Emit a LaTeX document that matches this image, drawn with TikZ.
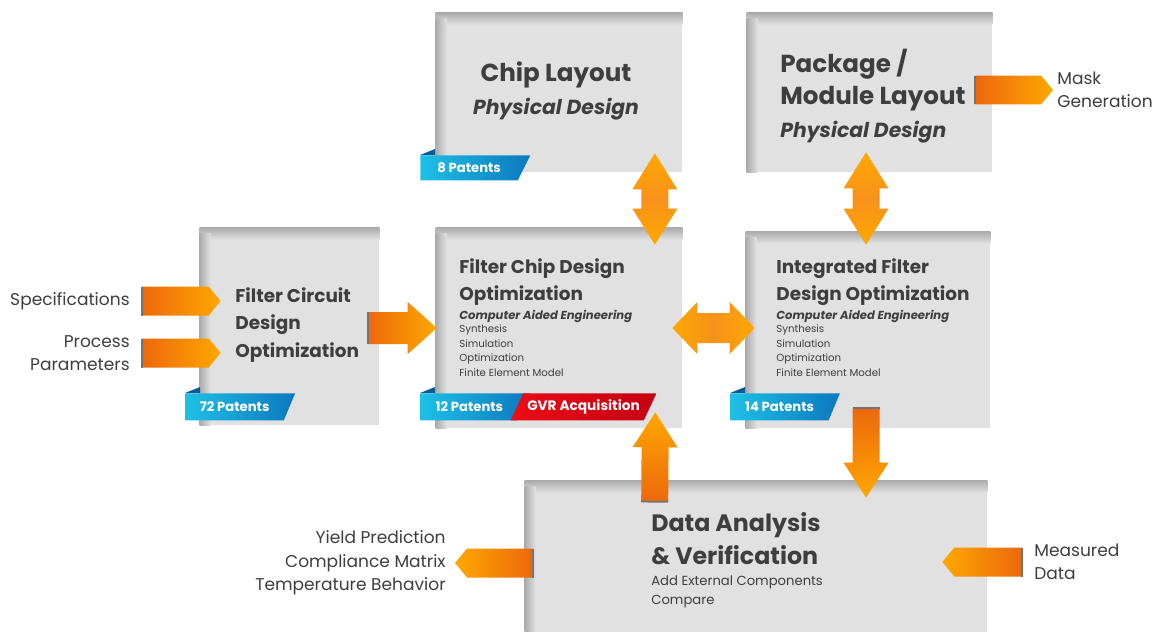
\documentclass[tikz,border=0pt]{standalone}
\usepackage{fontspec}
\setmainfont{Poppins}
\usetikzlibrary{shapes.geometric, calc, positioning}

\definecolor{panelG}{RGB}{225,225,225}
\definecolor{shadeG}{RGB}{172,172,172}
\definecolor{txtG}{RGB}{62,62,62}
\definecolor{orDark}{RGB}{236,104,12}
\definecolor{orMid}{RGB}{247,146,28}
\definecolor{orLight}{RGB}{255,168,0}
\definecolor{patL}{RGB}{30,192,230}
\definecolor{patR}{RGB}{12,120,190}
\definecolor{patFold}{RGB}{10,92,150}
\definecolor{gvrL}{RGB}{236,12,22}
\definecolor{gvrR}{RGB}{196,0,18}

\newcommand\physfont{\bfseries\itshape\fontsize{11.6}{18.5}\selectfont}

\tikzset{
  body half/.store in=\abody, head half/.store in=\ahead, head len/.store in=\alen,
  body half=0.3cm, head half=0.5cm, head len=0.5cm
}

% block arrow from #3 (base) to #4 (tip); #1 size, #2 colours
\newcommand\blockarrow[4]{%
  \path[#1,#2] let \p1=($(#4)-(#3)$), \n1={atan2(\y1,\x1)}, \n2={veclen(\x1,\y1)} in
    [shift={(#3)}, rotate=\n1]
    (0pt,-\abody) -- ({\n2-\alen},-\abody) -- ({\n2-\alen},-\ahead) -- (\n2,0pt)
    -- ({\n2-\alen},\ahead) -- ({\n2-\alen},\abody) -- (0pt,\abody) -- cycle;
  \draw[stub,#1] ($(#3)!\abody!90:(#4)$) -- ($(#3)!\abody!-90:(#4)$);}
% double block arrow between #3 and #4
\newcommand\dblarrow[4]{%
  \path[#1,#2] let \p1=($(#4)-(#3)$), \n1={atan2(\y1,\x1)}, \n2={veclen(\x1,\y1)} in
    [shift={(#3)}, rotate=\n1]
    (0pt,0pt) -- (\alen,-\ahead) -- (\alen,-\abody) -- ({\n2-\alen},-\abody)
    -- ({\n2-\alen},-\ahead) -- (\n2,0pt) -- ({\n2-\alen},\ahead) -- ({\n2-\alen},\abody)
    -- (\alen,\abody) -- (\alen,\ahead) -- cycle;}
% inner shadow on top and left edge of a panel
\newcommand\panelshadow[1]{%
  \shade[top color=shadeG, bottom color=panelG] (#1.north west) rectangle ($(#1.north east)+(0,12)$);
  \shade[left color=shadeG, right color=panelG] ($(#1.north west)+(0,6)$) rectangle ($(#1.south west)+(11,0)$);}

\begin{document}
\begin{tikzpicture}[x=0.02cm, y=-0.02cm,
    panel/.style={fill=panelG, inner sep=0pt},
    head/.style={font=\bfseries\fontsize{10.5}{15.5}\selectfont, text=txtG, align=left, anchor=west, inner sep=0pt},
    bighead/.style={font=\bfseries\fontsize{14}{18.5}\selectfont, text=txtG, align=left, inner sep=0pt},
    cae/.style={font=\bfseries\itshape\fontsize{6.6}{8}\selectfont, text=txtG, anchor=west, inner sep=0pt},
    steps/.style={font=\fontsize{5.8}{8.5}\selectfont, text=txtG, align=left, anchor=north west, inner sep=0pt},
    lbl/.style={font=\fontsize{9.7}{13.3}\selectfont, text=txtG, inner sep=0pt},
    patent/.style={trapezium, trapezium left angle=90, trapezium right angle=129,
      trapezium stretches=true, minimum width=2.2cm, minimum height=0.54cm,
      left color=patL, right color=patR, text=white,
      font=\bfseries\fontsize{7.5}{9}\selectfont, inner sep=0pt, anchor=top left corner},
    gvr/.style={trapezium, trapezium left angle=51, trapezium right angle=129,
      trapezium stretches=true, minimum width=2.94cm, minimum height=0.54cm,
      left color=gvrL, right color=gvrR, text=white,
      font=\bfseries\fontsize{7.8}{9}\selectfont, inner sep=0pt, anchor=top right corner},
    stub/.style={draw=black!55, line width=1pt},
    tabtip/.style={body half=0.29cm, head half=0.29cm, head len=0.24cm},
    widetip/.style={body half=0.32cm, head half=0.52cm, head len=0.58cm},
    vtip/.style={body half=0.27cm, head half=0.45cm, head len=0.7cm},
    dbltip/.style={body half=0.27cm, head half=0.45cm, head len=0.72cm},
    hdbltip/.style={body half=0.3cm, head half=0.52cm, head len=0.5cm},
    toright/.style={left color=orDark, right color=orLight},
    toleft/.style={left color=orLight, right color=orDark},
    toup/.style={bottom color=orDark, top color=orLight},
    todown/.style={top color=orDark, bottom color=orLight},
    bothv/.style={top color=orLight, bottom color=orLight, middle color=orMid},
    bothh/.style={left color=orLight, right color=orLight, middle color=orMid}
  ]
  \useasboundingbox (0,0) rectangle (1163,632);

  % panels
  \node[panel, minimum width=3.58cm, minimum height=3.94cm] (circ) at (289.5,326.5) {};
  \node[panel, minimum width=4.92cm, minimum height=4.00cm] (chip) at (559,328) {};
  \node[panel, minimum width=4.88cm, minimum height=3.92cm] (integ) at (868,330) {};
  \node[panel, minimum width=4.92cm, minimum height=3.18cm] (layout) at (559,92.5) {};
  \node[panel, minimum width=4.90cm, minimum height=3.18cm] (pkg) at (869.5,92.5) {};
  \node[panel, minimum width=9.24cm, minimum height=3.02cm] (data) at (756,556.5) {};
  \foreach \b in {circ,chip,integ,layout,pkg,data} {\panelshadow{\b}}

  % outside labels
  \node[lbl, anchor=east] (spec) at (130,301) {Specifications};
  \node[lbl, anchor=east, align=right] (proc) at (130,353) {Process\\Parameters};
  \node[lbl, anchor=west, align=left] (mask) at (1057,90) {Mask\\Generation};
  \node[lbl, anchor=east, align=right] (yield) at (446,563) {Yield Prediction\\Compliance Matrix\\Temperature Behavior};
  \node[lbl, anchor=west, align=left] (meas) at (1034,562) {Measured\\Data};

  % arrow ends
  \coordinate (specS) at ($(spec.east)+(12,0)$);
  \coordinate (specT) at ($(circ.west |- spec.east)+(21,0)$);
  \coordinate (procS) at ($(proc.east)+(12,0)$);
  \coordinate (procT) at ($(circ.west |- proc.east)+(21,0)$);
  \coordinate (circS) at ($(circ.east |- chip.west)+(-11,0)$);
  \coordinate (chipT) at ($(chip.west)+(1,0)$);
  \coordinate (layoutB) at ($(layout.south east)+(-27.5,-19)$);
  \coordinate (chipA) at ($(chip.north east)+(-27.5,17)$);
  \coordinate (pkgB) at ($(pkg.south)+(-3.5,-20)$);
  \coordinate (integA) at ($(integ.north)+(-2,13)$);
  \coordinate (chipR) at ($(chip.east)+(-10,0)$);
  \coordinate (integL) at ($(integ.west |- chip.east)+(9,0)$);
  \coordinate (dataU) at ($(data.north west)+(130,21)$);
  \coordinate (chipU) at ($(chip.south east)+(-27,-16)$);
  \coordinate (integD) at ($(integ.south)+(-2,-20)$);
  \coordinate (dataD) at ($(data.north)+(110,17)$);
  \coordinate (dataY) at ($(data.west |- yield.east)+(8,0)$);
  \coordinate (yieldT) at ($(yield.east)+(9,0)$);
  \coordinate (measS) at ($(meas.west)+(-12,0)$);
  \coordinate (dataM) at ($(data.east |- meas.west)+(-45,0)$);
  \coordinate (pkgM) at ($(pkg.east |- mask.west)+(-17,0)$);
  \coordinate (maskT) at ($(mask.west)+(-4,0)$);

  % arrows
  \blockarrow{tabtip}{toright}{specS}{specT}
  \blockarrow{tabtip}{toright}{procS}{procT}
  \blockarrow{widetip}{toright}{circS}{chipT}
  \blockarrow{tabtip}{toright}{pkgM}{maskT}
  \blockarrow{tabtip}{toleft}{dataY}{yieldT}
  \blockarrow{tabtip}{toleft}{measS}{dataM}
  \blockarrow{vtip}{toup}{dataU}{chipU}
  \blockarrow{vtip}{todown}{integD}{dataD}
  \dblarrow{dbltip}{bothv}{layoutB}{chipA}
  \dblarrow{dbltip}{bothv}{pkgB}{integA}
  \dblarrow{hdbltip}{bothh}{chipR}{integL}

  % patent badges
  \node[patent, minimum height=0.5cm] (layoutpat) at (420,155) {8 Patents};
  \node[patent] (circpat) at (185,393) {72 Patents};
  \node[patent] (chippat) at (420,393) {12 Patents};
  \node[patent] (integpat) at (730,393) {14 Patents};
  \node[gvr] (gvrpat) at (657,393) {GVR Acquisition};
  \foreach \p in {layoutpat,circpat,chippat,integpat} {
    \fill[patFold] (\p.top left corner) -- ++(15,-6) -- ++(0,6) -- cycle;
  }

  % panel texts
  \node[head] (circtxt) at (235,325) {Filter Circuit\\Design\\Optimization};
  \node[bighead, align=center] (layouttxt) at (556,91) {Chip Layout\\{\physfont Physical Design}};
  \node[bighead, anchor=west] (pkgtxt) at (780,96) {Package /\\Module Layout\\{\physfont Physical Design}};

  \node[head] (chiphead) at (459,282) {Filter Chip Design\\Optimization};
  \node[cae] (chipcae) at (459,316) {Computer Aided Engineering};
  \node[steps] (chipsteps) at (459,324) {Synthesis\\Simulation\\Optimization\\Finite Element Model};

  \node[head] (integhead) at (776,282) {Integrated Filter\\Design Optimization};
  \node[cae] (integcae) at (776,316) {Computer Aided Engineering};
  \node[steps] (integsteps) at (776,324) {Synthesis\\Simulation\\Optimization\\Finite Element Model};

  \node[bighead, anchor=west, font=\bfseries\fontsize{13.5}{18.7}\selectfont] (datatxt) at (651,539) {Data Analysis\\\& Verification};
  \node[steps, anchor=west, font=\fontsize{7.5}{10.8}\selectfont] (datasub) at (651,592) {Add External Components\\Compare};
\end{tikzpicture}
\end{document}
